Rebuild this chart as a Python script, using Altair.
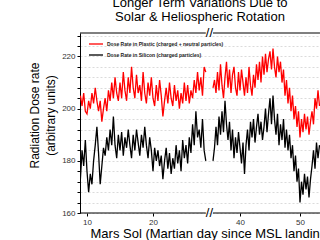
import altair as alt
import pandas as pd

FONT = "Liberation Sans"

title_lines = ["Longer Term Variations Due to", "Solar & Heliospheric Rotation"]
y_title = ["Radiation Dose rate", "(arbitrary units)"]
x_title = "Mars Sol (Martian day since MSL landing)"
series = ["Dose Rate in Plastic (charged + neutral particles)",
          "Dose Rate in Silicon (charged particles)"]
colors = ["#ff0000", "#000000"]

samples_per_sol = 4
left_first_sol = 9.0
right_first_sol = 35.5
x_ticks = [10, 20, 40, 50]
y_domain = [160, 229]
y_grid = [160, 164, 168, 172, 176, 180, 184, 188, 192, 196, 200, 204, 208, 212, 216, 220, 224, 228]

plastic_left = [
    205, 201, 206, 199,
    198, 203, 200, 206,
    202, 208, 203, 199,
    203, 195, 200, 204,
    199, 207, 203, 210,
    204, 212, 206, 203,
    210, 204, 214, 207,
    203, 212, 206, 216,
    208, 204, 213, 206,
    209, 203, 214, 206,
    202, 210, 205, 212,
    204, 201, 209, 203,
    211, 205, 197, 203,
    208, 202, 210, 204,
    201, 209, 203, 207,
    200, 206, 202, 210,
    203, 209, 202, 207,
    204, 211, 206, 214,
    207, 212, 205, 216,
    214,
]
silicon_left = [
    173, 184, 178, 188,
    176, 168, 175, 171,
    180, 186, 193, 183,
    171, 178, 185, 182,
    189, 184, 192, 186,
    197, 186, 181, 190,
    184, 191, 182, 189,
    185, 192, 186, 181,
    190, 184, 192, 187,
    182, 190, 185, 193,
    186, 181, 189, 184,
    176, 185, 180, 184,
    178, 182, 173, 180,
    185, 177, 183, 175,
    181, 177, 186, 179,
    184, 176, 188, 181,
    186, 179, 189, 183,
    194, 186, 199, 189,
    192, 185, 196, 184,
    180,
]
plastic_right = [
    208, 211,
    206, 214, 207, 217,
    209, 204, 212, 218,
    208, 215, 206, 213,
    216, 208, 205, 214,
    207, 215, 210, 205,
    212, 206, 216, 209,
    205, 213, 208, 217,
    211, 218, 210, 220,
    213, 221, 214, 219,
    222, 215, 223, 216,
    212, 220, 214, 218,
    210, 215, 205, 211,
    202, 208, 199, 205,
    196, 201, 193, 199,
    189, 196, 191, 198,
    192, 197, 190, 195,
    199, 194, 204, 200,
    207, 201,
]
silicon_right = [
    180, 185,
    193, 186, 197, 190,
    199, 191, 203, 194,
    188, 195, 184, 192,
    181, 189, 183, 191,
    185, 179, 187, 175,
    186, 192, 184, 195,
    189, 196, 187, 193,
    198, 190, 195, 188,
    193, 200, 191, 198,
    204, 194, 205, 196,
    190, 198, 186, 194,
    188, 196, 185, 192,
    184, 190, 181, 186,
    176, 182, 172, 177,
    164, 172, 167, 175,
    169, 174, 166, 173,
    178, 184, 177, 187,
    181, 186,
]

# ---- broken-axis layout (pixels of the plot area) ----
W, H = 240, 180
L_START, L_END, L_PX = 8.94, 28.0, 6.6       # left segment: sols and px per sol
R_START, R_END, R_PX = 35.5, 53.33, 6.0      # right segment
R_OFFSET = 133                                # px where right segment begins
BREAK_PX = (L_END - L_START) * L_PX / 2 + R_OFFSET / 2  # middle of the gap


def to_px(sol):
    if sol < 31:
        return (sol - L_START) * L_PX
    return R_OFFSET + (sol - R_START) * R_PX


px_expr = (f"datum.sol < 31 ? (datum.sol - {L_START}) * {L_PX} : "
           f"{R_OFFSET} + (datum.sol - {R_START}) * {R_PX}")
label_expr = (f"format(datum.value < 130 ? datum.value / {L_PX} + {L_START} : "
              f"(datum.value - {R_OFFSET}) / {R_PX} + {R_START}, '.0f')")


def frame(first_sol, plastic, silicon, seg):
    rows = []
    for name, vals in ((series[0], plastic), (series[1], silicon)):
        for i, v in enumerate(vals):
            rows.append({"sol": first_sol + i / samples_per_sol, "dose": v,
                         "series": name, "seg": seg})
    return pd.DataFrame(rows)


df = pd.concat([frame(left_first_sol, plastic_left, silicon_left, "a"),
                frame(right_first_sol, plastic_right, silicon_right, "b")],
               ignore_index=True)

x_scale = alt.Scale(domain=[0, W], nice=False, zero=False)
y_scale = alt.Scale(domain=y_domain, nice=False, zero=False)
color_scale = alt.Scale(domain=series, range=colors)

x_axis = alt.Axis(values=[to_px(t) for t in x_ticks], labelExpr=label_expr,
                  tickSize=3, labelFontSize=8, labelPadding=2,
                  labelColor="#333333", tickColor="#000000", domain=False,
                  grid=False, title=x_title, titleAnchor="start",
                  titleAlign="left", titleX=10, titleY=14, titleBaseline="top",
                  titleFontSize=13, titleFontWeight="normal",
                  titleColor="#000000")

lines = alt.Chart(df).transform_calculate(px=px_expr).mark_line(
    strokeWidth=1.3, clip=True).encode(
    x=alt.X("px:Q", scale=x_scale, axis=x_axis),
    y=alt.Y("dose:Q", scale=y_scale,
            axis=alt.Axis(values=y_grid, labelOverlap=False,
                          labelExpr="datum.value % 20 == 0 ? datum.label : ''",
                          tickSize=3, labelFontSize=8, labelPadding=2, labelColor="#333333",
                          domainColor="#000000", tickColor="#000000",
                          grid=True, gridColor="#d2d2d2", gridDash=[2, 2], gridWidth=0.8,
                          title=y_title, titleFontSize=12, titleFontWeight="normal",
                          titleColor="#000000", titleLineHeight=16, titlePadding=4,
                          titleY=82)),
    color=alt.Color("series:N", scale=color_scale, sort=series,
                    legend=alt.Legend(orient="none", legendX=8, legendY=3, title=None,
                                      symbolType="stroke", symbolSize=196,
                                      symbolStrokeWidth=1.3, labelFontSize=5,
                                      labelFontWeight="bold", labelOffset=3,
                                      rowPadding=-5, labelColor="#222222", padding=0)),
    detail="seg:N",
)

# frame segments (top and bottom borders), broken at the gap
border_df = pd.DataFrame({
    "start": [L_START, R_START],
    "end": [L_END, R_END],
})
border_base = alt.Chart(border_df).transform_calculate(
    px=px_expr.replace("datum.sol", "datum.start"),
    px2=px_expr.replace("datum.sol", "datum.end"),
).mark_rule(color="#000000", strokeWidth=1)
top_border = border_base.encode(
    x=alt.X("px:Q", scale=x_scale, axis=x_axis), x2="px2:Q", y=alt.value(0))
bottom_border = border_base.encode(
    x=alt.X("px:Q", scale=x_scale, axis=x_axis), x2="px2:Q", y=alt.value(H))

break_df = pd.DataFrame({"mark": ["//"]})
break_base = alt.Chart(break_df).mark_text(fontSize=13, font=FONT, color="#000000",
                                           baseline="middle", align="center")
break_top = break_base.encode(text="mark:N", x=alt.value(BREAK_PX), y=alt.value(0))
break_bottom = break_base.encode(text="mark:N", x=alt.value(BREAK_PX), y=alt.value(H))

chart = alt.layer(lines, top_border, bottom_border, break_top, break_bottom).properties(
    width=W, height=H,
    autosize=alt.AutoSizeParams(type="none"),
    padding={"left": 80, "top": 33, "right": 0, "bottom": 27},
    title=alt.TitleParams(title_lines, fontSize=13, font=FONT, fontWeight="normal",
                          anchor="middle", frame="group", offset=3, lineHeight=14,
                          color="#000000"),
).configure(font=FONT).configure_view(stroke=None)

chart.save("out.html", embed_options={"renderer": "svg", "actions": False})
